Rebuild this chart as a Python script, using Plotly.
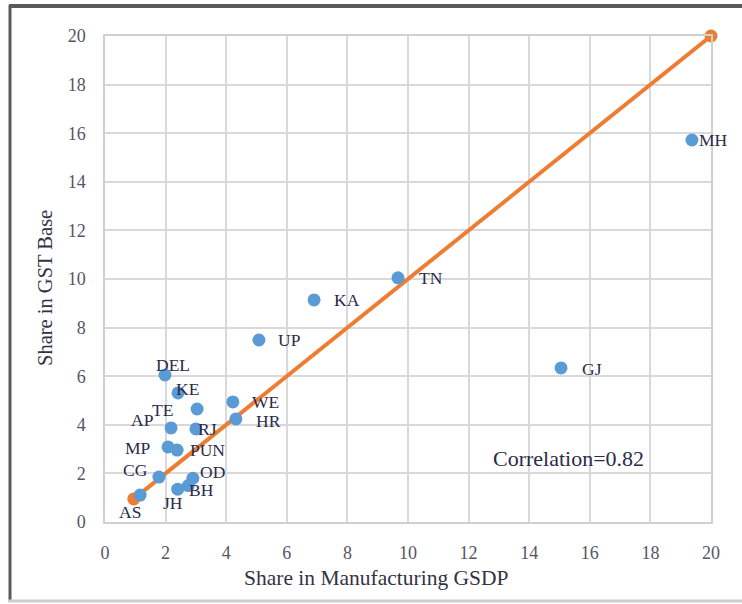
import plotly.graph_objects as go

states = ["MH", "GJ", "TN", "KA", "UP", "DEL", "KE", "TE", "AP", "RJ",
          "WE", "HR", "MP", "PUN", "CG", "OD", "BH", "JH", "AS"]
mfg_share = [19.37, 15.05, 9.67, 6.9, 5.08, 1.98, 2.41, 3.04, 2.18, 3.0,
             4.22, 4.32, 2.08, 2.38, 1.78, 2.9, 2.75, 2.4, 1.16]
gst_share = [15.72, 6.34, 10.05, 9.14, 7.49, 6.05, 5.31, 4.65, 3.87, 3.83,
             4.94, 4.24, 3.09, 2.96, 1.85, 1.8, 1.5, 1.35, 1.11]
line_x = [0.95, 20]
line_y = [0.95, 20]
ticks = [0, 2, 4, 6, 8, 10, 12, 14, 16, 18, 20]
corr_text = "Correlation=0.82"

# label offsets in pixels (dx right, dy down) -- styling only
label_offsets = {
    "MH": (22, 0), "GJ": (31, 1), "TN": (33, 0), "KA": (33, 0), "UP": (31, 0),
    "DEL": (8, -10), "KE": (9, -4), "TE": (-35, 1), "AP": (-29, -8),
    "RJ": (12, 0), "WE": (33, 0), "HR": (33, 2), "MP": (-30, 1),
    "PUN": (30, 0), "CG": (-23, -7), "OD": (20, -6), "BH": (13, 4),
    "JH": (-5, 14), "AS": (-10, 17),
}

SERIF = "Liberation Serif"
BLUE = "#5B9BD5"
ORANGE = "#ED7D31"

fig = go.Figure()
fig.add_trace(go.Scatter(
    x=line_x, y=line_y, mode="lines+markers", cliponaxis=False,
    line=dict(color=ORANGE, width=4),
    marker=dict(color=ORANGE, size=13),
    showlegend=False, hoverinfo="skip"))
fig.add_trace(go.Scatter(
    x=mfg_share, y=gst_share, mode="markers", text=states, cliponaxis=False,
    marker=dict(color=BLUE, size=13),
    showlegend=False))

annotations = []
for s, xv, yv in zip(states, mfg_share, gst_share):
    dx, dy = label_offsets[s]
    annotations.append(dict(
        x=xv, y=yv, xref="x", yref="y", text=s, showarrow=False,
        xshift=dx, yshift=-dy, xanchor="center", yanchor="middle",
        font=dict(family=SERIF, size=17.5, color="#2b2b4a")))

annotations.append(dict(
    x=15.3, y=2.6, xref="x", yref="y", text=corr_text, showarrow=False,
    xanchor="center", yanchor="middle",
    font=dict(family=SERIF, size=22, color="#2b2b4a")))
annotations.append(dict(
    x=(376 - 105) / 606, y=(522 - 578) / 486, xref="paper", yref="paper",
    text="Share in Manufacturing GSDP", showarrow=False,
    xanchor="center", yanchor="middle",
    font=dict(family=SERIF, size=21.5, color="#333344")))
annotations.append(dict(
    x=(45 - 105) / 606, y=(522 - 288) / 486, xref="paper", yref="paper",
    text="Share in GST Base", showarrow=False, textangle=-90,
    xanchor="center", yanchor="middle",
    font=dict(family=SERIF, size=20.5, color="#333344")))

axis_common = dict(
    range=[0, 20], tickvals=ticks, showgrid=True, gridcolor="#d9d9d9",
    gridwidth=1.5, zeroline=False, showline=True, linecolor="#d0d0d0",
    linewidth=1.5, mirror=True, ticks="",
    tickfont=dict(family=SERIF, size=18, color="#555566"))


def px(v):
    return (v - 105) / 606


def py(v):
    return (522 - v) / 486


fig.update_layout(
    width=742, height=604,
    margin=dict(l=105, r=31, t=36, b=82),
    paper_bgcolor="white", plot_bgcolor="white",
    xaxis=dict(**axis_common, ticklabelstandoff=14),
    yaxis=dict(**axis_common, ticklabelstandoff=14),
    annotations=annotations,
    shapes=[
        dict(type="rect", xref="paper", yref="paper", layer="above",
             x0=px(9), x1=px(742), y0=py(4), y1=py(8),
             line=dict(width=0), fillcolor="#5a5a5a"),
        dict(type="line", xref="paper", yref="paper", layer="above",
             x0=px(10), x1=px(10), y0=py(5), y1=py(601),
             line=dict(color="#5a5a5a", width=3)),
        dict(type="line", xref="paper", yref="paper",
             x0=px(8), x1=px(760), y0=py(601), y1=py(601),
             line=dict(color="#cccccc", width=3)),
    ],
)

frame_js = (
    "document.body.style.margin='0';"
    "var b=document.createElement('div');"
    "b.style.cssText='position:absolute;left:9px;top:4px;width:733px;"
    "height:4px;background:#5a5a5a;z-index:10;pointer-events:none';"
    "document.body.appendChild(b);"
)

fig.write_html("out.html", post_script=frame_js,
               config={"displayModeBar": False})
